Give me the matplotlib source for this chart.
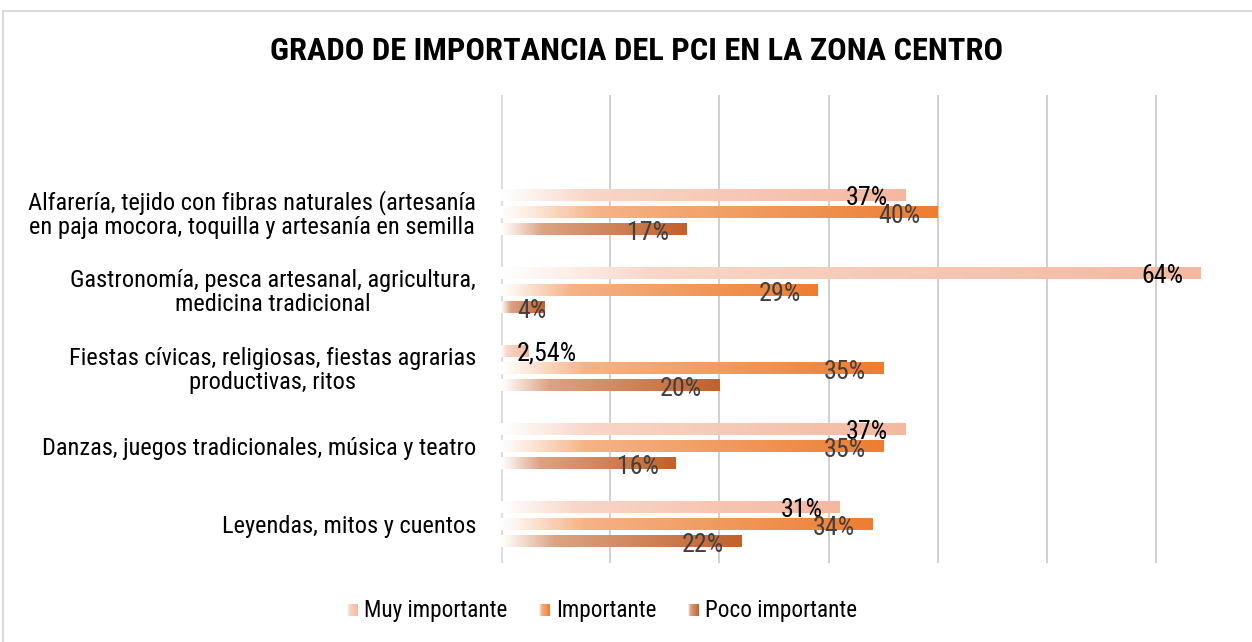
import numpy as np
import matplotlib
matplotlib.use("Agg")
import matplotlib.pyplot as plt
from matplotlib import font_manager as fm
from matplotlib.colors import to_rgb
from matplotlib.lines import Line2D
import matplotlib.transforms as mtransforms

# ---------------- data ----------------
categories = [
    "Alfarería, tejido con fibras naturales (artesanía\nen paja mocora, toquilla y artesanía en semilla",
    "Gastronomía, pesca artesanal, agricultura,\nmedicina tradicional",
    "Fiestas cívicas, religiosas, fiestas agrarias\nproductivas, ritos",
    "Danzas, juegos tradicionales, música y teatro",
    "Leyendas, mitos y cuentos",
]
series_names = ["Muy importante", "Importante", "Poco importante"]
muy_importante = [0.37, 0.64, 0.0254, 0.37, 0.31]
importante = [0.40, 0.29, 0.35, 0.35, 0.34]
poco_importante = [0.17, 0.04, 0.20, 0.16, 0.22]
labels_muy = ["37%", "64%", "2,54%", "37%", "31%"]
labels_imp = ["40%", "29%", "35%", "35%", "34%"]
labels_poco = ["17%", "4%", "20%", "16%", "22%"]
x_gridticks = [0.0, 0.1, 0.2, 0.3, 0.4, 0.5, 0.6]
title = "GRADO DE IMPORTANCIA DEL PCI EN LA ZONA CENTRO"

series_values = [muy_importante, importante, poco_importante]
series_labels = [labels_muy, labels_imp, labels_poco]
series_colors = ["#F4B8A0", "#ED7D31", "#C2612A"]
label_colors = ["#000000", "#404040", "#404040"]

# ---------------- fonts ----------------
names = {f.name for f in fm.fontManager.ttflist}
narrow = "Roboto Condensed"
for cand in ["Liberation Sans Narrow", "Arial Narrow", "Roboto Condensed", "Archivo Narrow", "PT Sans Narrow"]:
    if cand in names:
        narrow = cand
        break
plt.rcParams["font.family"] = [narrow, "DejaVu Sans"]

W, H = 1252, 642
fig = plt.figure(figsize=(W / 100, H / 100), dpi=100)
fig.patch.set_facecolor("white")
renderer = fig.canvas.get_renderer()


def text_width(text, size, **kw):
    p = fig.text(0, 0, text, fontsize=size, **kw)
    w = p.get_window_extent(renderer).width
    p.remove()
    return w


def fit_size(text, target_px, base=18, **kw):
    return base * target_px / text_width(text, base, **kw)


FS = float(np.clip(fit_size(categories[0].split("\n")[0], 448), 15, 20))
FS_LAB = float(np.clip(fit_size("2,54%", 60), 15, 22))
FS_LEG = FS * 0.95
FS_TITLE = fit_size(title, 733, fontweight="bold")

ax = fig.add_axes([501 / W, 1 - 563 / H, (1222 - 501) / W, (563 - 95) / H])
ax.set_xlim(0, 0.66)
ax.set_ylim(-0.5, 5.5)
for s in ax.spines.values():
    s.set_visible(False)

for g in x_gridticks:
    if g == 0:
        ax.axvline(g, color="#D9D9D9", lw=2.6, zorder=0)
    else:
        ax.axvline(g, color="#D0D0D0", lw=1.4, zorder=0)


def grad_img(color, n=256):
    t = np.linspace(0, 1, n)
    f = np.interp(t, [0, 0.05, 0.22, 1.0], [0.0, 0.12, 0.58, 1.0])
    c = np.array(to_rgb(color))
    rgb = 1 - f[:, None] * (1 - c[None, :])
    return rgb[None, :, :]


n = len(categories)
ypos = np.arange(n)[::-1]
offsets = [0.215, 0.0, -0.215]
y_shift = [0.0, -1.5, -1.5]
bar_h = 0.15

for vals, labs, col, lcol, off, ys in zip(series_values, series_labels, series_colors,
                                          label_colors, offsets, y_shift):
    tr = mtransforms.offset_copy(ax.transData, fig=fig, x=0, y=ys, units="dots")
    bars = ax.barh(ypos + off, vals, height=bar_h, color=col, edgecolor="none", zorder=2)
    img = grad_img(col)
    for b, v, lab in zip(bars, vals, labs):
        x0, y0 = b.get_x(), b.get_y()
        im = ax.imshow(img, extent=[x0, x0 + b.get_width(), y0, y0 + b.get_height()],
                       aspect="auto", interpolation="bilinear", zorder=3)
        im.set_clip_path(b)
        yc = y0 + b.get_height() / 2
        if v < 0.08:
            ax.text(0.0145, yc, lab, ha="left", va="center_baseline", fontsize=FS_LAB,
                    color=lcol, transform=tr, zorder=5)
        else:
            ax.text(v - 0.0158, yc, lab, ha="right", va="center_baseline", fontsize=FS_LAB,
                    color=lcol, transform=tr, zorder=5)

ax.set_aspect("auto")
ax.set_xlim(0, 0.66)
ax.set_ylim(-0.5, 5.5)
ax.set_xticks([])
ax.set_yticks(ypos)
ax.set_yticklabels(categories, fontsize=FS, color="#000000", multialignment="center",
                   linespacing=1.05)
ax.tick_params(axis="y", length=0, pad=18)

# title
fig.text(636.5 / W, 1 - 60 / H, title, ha="center", va="baseline", fontsize=FS_TITLE,
         fontweight="bold", color="#000000")

# legend (manual placement, centred like the reference)
sq, gap_in, gap_out = 11, 6, 32
widths = [text_width(nm, FS_LEG) for nm in series_names]
total = sum(sq + gap_in + w for w in widths) + gap_out * (len(widths) - 1)
x = 602 - total / 2
for name, col, w in zip(series_names, series_colors, widths):
    la = fig.add_axes([x / W, 1 - 616 / H, sq / W, 12 / H])
    la.imshow(grad_img(col), aspect="auto", extent=[0, 1, 0, 1], interpolation="bilinear")
    la.axis("off")
    fig.text((x + sq + gap_in) / W, 1 - 611 / H, name, ha="left", va="center",
             fontsize=FS_LEG, color="#000000")
    x += sq + gap_in + w + gap_out

# chart border
fig.add_artist(Line2D([3 / W, 3 / W], [0, 1 - 11 / H], color="#D9D9D9", lw=1.5))
fig.add_artist(Line2D([3 / W, 1], [1 - 11 / H, 1 - 11 / H], color="#D9D9D9", lw=1.5))

fig.savefig("out.png", dpi=100, facecolor="white")
